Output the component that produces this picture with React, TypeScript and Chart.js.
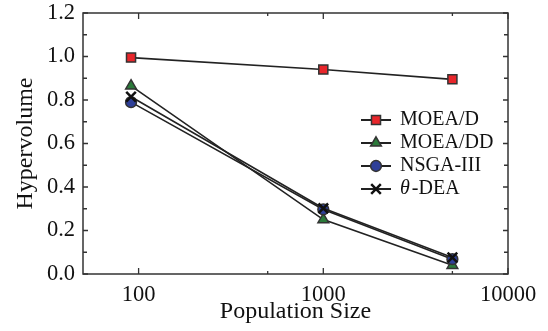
import React, { useEffect, useRef } from "react";
import { Chart, registerables } from "chart.js";
import { drawPoint } from "chart.js/helpers";

Chart.register(...registerables);

const populationSizes = [91, 1000, 5000];
const moeadValues = [0.995, 0.94, 0.895];
const moeaddValues = [0.865, 0.25, 0.04];
const nsga3Values = [0.79, 0.297, 0.068];
const thetaDeaValues = [0.815, 0.302, 0.076];

const seriesNames = ["MOEA/D", "MOEA/DD", "NSGA-III", "θ-DEA"];
const xTickLabels = [100, 1000, 10000];
const xMinorTicks = [500, 5000];
const yTickLabels = [0, 0.2, 0.4, 0.6, 0.8, 1.0, 1.2];
const yMinorTicks = [0.1, 0.3, 0.5, 0.7, 0.9, 1.1];

const FONT = '"Liberation Serif"';
const AXIS = "#333333";

const frame = {
  id: "frameTicks",
  beforeDatasetsDraw(chart: any) {
    const { ctx, chartArea: a, scales } = chart;
    const xs = scales.x;
    const ys = scales.y;
    ctx.save();
    ctx.strokeStyle = AXIS;
    ctx.lineWidth = 1.5;
    ctx.strokeRect(a.left, a.top, a.right - a.left, a.bottom - a.top);
    ctx.lineWidth = 1.3;
    const yt = (v: number, len: number) => {
      const y = ys.getPixelForValue(v);
      ctx.beginPath();
      ctx.moveTo(a.left, y);
      ctx.lineTo(a.left + len, y);
      ctx.moveTo(a.right, y);
      ctx.lineTo(a.right - len, y);
      ctx.stroke();
    };
    const xt = (v: number, len: number) => {
      const x = xs.getPixelForValue(v);
      ctx.beginPath();
      ctx.moveTo(x, a.bottom);
      ctx.lineTo(x, a.bottom - len);
      ctx.moveTo(x, a.top);
      ctx.lineTo(x, a.top + len);
      ctx.stroke();
    };
    yTickLabels.forEach((v) => yt(v, 5));
    yMinorTicks.forEach((v) => yt(v, 4));
    xTickLabels.forEach((v) => xt(v, 6));
    xMinorTicks.forEach((v) => xt(v, 3));
    ctx.restore();
  },
};

const legendPlugin = {
  id: "customLegend",
  afterDatasetsDraw(chart: any) {
    const { ctx } = chart;
    const x0 = 361;
    const y0 = 120;
    const gap = 23;
    ctx.save();
    chart.data.datasets.forEach((ds: any, i: number) => {
      const y = y0 + i * gap;
      ctx.strokeStyle = ds.borderColor;
      ctx.lineWidth = 2;
      ctx.beginPath();
      ctx.moveTo(x0, y);
      ctx.lineTo(x0 + 30, y);
      ctx.stroke();
      ctx.fillStyle = ds.pointBackgroundColor;
      ctx.strokeStyle = ds.pointBorderColor;
      ctx.lineWidth = ds.pointBorderWidth;
      drawPoint(ctx, { pointStyle: ds.pointStyle, radius: ds.pointRadius, rotation: 0, borderWidth: ds.pointBorderWidth }, x0 + 15, y);
      ctx.fillStyle = "#111";
      ctx.textBaseline = "middle";
      ctx.textAlign = "left";
      const name: string = ds.label;
      let tx = 400;
      if (name.startsWith("θ")) {
        ctx.font = `italic 20px ${FONT}`;
        ctx.fillText("θ", tx, y);
        tx += ctx.measureText("θ").width + 2;
        ctx.font = `20px ${FONT}`;
        ctx.fillText(name.slice(1), tx, y);
      } else {
        ctx.font = `20px ${FONT}`;
        ctx.fillText(name, tx, y);
      }
    });
    ctx.restore();
  },
};

export default function App() {
  const ref = useRef<HTMLCanvasElement | null>(null);
  useEffect(() => {
    if (!ref.current) return;
    let chart: any = null;
    let cancelled = false;
    const build = () => {
      if (cancelled || !ref.current) return;
      const mk = (vals: number[]) => populationSizes.map((x, i) => ({ x, y: vals[i] }));
      const styles = [
        { style: "rect", r: 6.4, bg: "#e8262b", bc: AXIS, bw: 1.5, order: 3 },
        { style: "triangle", r: 6.2, bg: "#2b7a3a", bc: AXIS, bw: 1.5, order: 2 },
        { style: "circle", r: 5.4, bg: "#2e3f98", bc: AXIS, bw: 1.5, order: 1 },
        { style: "crossRot", r: 6.8, bg: "#111111", bc: "#111111", bw: 2.5, order: 0 },
      ];
      const values = [moeadValues, moeaddValues, nsga3Values, thetaDeaValues];
      chart = new Chart(ref.current, {
        type: "line",
        data: {
          datasets: values.map((v, i) => ({
            label: seriesNames[i],
            data: mk(v),
            borderColor: "#222222",
            borderWidth: 1.6,
            pointStyle: styles[i].style,
            pointRadius: styles[i].r,
            pointBackgroundColor: styles[i].bg,
            pointBorderColor: styles[i].bc,
            pointBorderWidth: styles[i].bw,
            order: styles[i].order,
            clip: false,
            tension: 0,
          })) as any,
        },
        options: {
          animation: false,
          responsive: false,
          layout: { padding: { top: 13, right: 40, left: 0, bottom: 0 } },
          plugins: { legend: { display: false }, tooltip: { enabled: false } },
          scales: {
            x: {
              type: "logarithmic",
              min: 50,
              max: 10000,
              grid: { display: false, drawTicks: false },
              border: { display: false },
              ticks: {
                font: { family: FONT, size: 22.5 },
                color: "#111",
                padding: 8,
                autoSkip: false,
                maxRotation: 0,
                callback: (v: any) => String(v),
              },
              afterBuildTicks: (s: any) => {
                s.ticks = xTickLabels.map((v) => ({ value: v }));
              },
              afterFit: (s: any) => {
                s.height = 57;
                s.paddingLeft = 0;
                s.paddingRight = 0;
              },
              title: {
                display: true,
                text: "Population Size",
                font: { family: FONT, size: 24 },
                color: "#111",
                padding: { top: 0, bottom: 5 },
              },
            },
            y: {
              min: 0,
              max: 1.2,
              grid: { display: false, drawTicks: false },
              border: { display: false },
              ticks: {
                font: { family: FONT, size: 22.5 },
                color: "#111",
                padding: 8,
                callback: (v: any) => Number(v).toFixed(1),
              },
              afterBuildTicks: (s: any) => {
                s.ticks = yTickLabels.map((v) => ({ value: v }));
              },
              afterFit: (s: any) => {
                s.width = 83;
                s.paddingTop = 0;
                s.paddingBottom = 0;
              },
              title: {
                display: true,
                text: "Hypervolume",
                font: { family: FONT, size: 24 },
                color: "#111",
                padding: { top: 11, bottom: 0 },
              },
            },
          },
        } as any,
        plugins: [frame, legendPlugin],
      });
    };
    const fontsApi: any = (document as any).fonts;
    if (fontsApi && fontsApi.load) {
      Promise.all([
        fontsApi.load(`22px ${FONT}`),
        fontsApi.load(`italic 20px ${FONT}`),
      ])
        .catch(() => null)
        .then(build);
    } else {
      build();
    }
    return () => {
      cancelled = true;
      if (chart) chart.destroy();
    };
  }, []);
  return (
    <div style={{ position: "fixed", left: 0, top: 0, width: 548, height: 331, background: "#fff" }}>
      <canvas ref={ref} width={548} height={331} style={{ display: "block" }} />
    </div>
  );
}
